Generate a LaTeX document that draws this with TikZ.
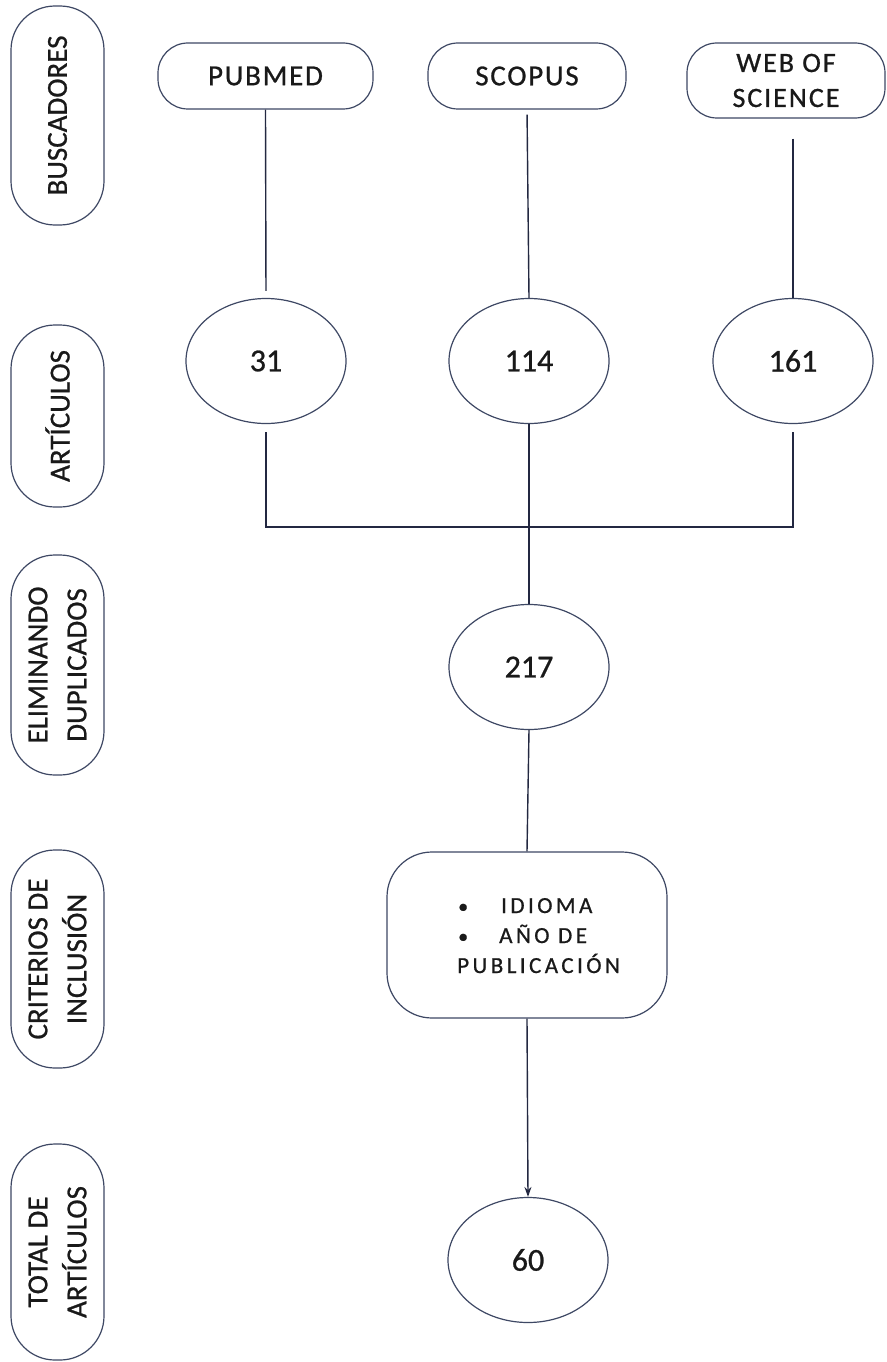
\documentclass[tikz,border=0pt]{standalone}
\usepackage{fontspec}
\setmainfont{Carlito}[FakeBold=0.8]
\usetikzlibrary{shapes.geometric,arrows.meta}
\definecolor{edge}{RGB}{62,72,100}
\definecolor{wire}{RGB}{35,40,65}
\definecolor{ink}{RGB}{25,25,25}
\begin{document}
\begin{tikzpicture}[x=1pt,y=-1pt,
  sidebox/.style={draw=edge, line width=1.2pt, rounded corners=44pt, rotate=90,
    minimum height=93pt, inner sep=0pt, align=center, text=ink,
    font=\fontsize{29}{39}\selectfont},
  topbox/.style={draw=edge, line width=1.2pt, rounded corners=30pt, inner sep=0pt,
    align=center, text=ink, font=\fontsize{29}{35}\selectfont\addfontfeature{LetterSpace=6}},
  numnode/.style={ellipse, draw=edge, line width=1.2pt, minimum width=160pt,
    minimum height=125pt, inner sep=0pt, text=ink, font=\fontsize{32}{38}\selectfont},
  wire/.style={draw=wire, line width=1.4pt}
]
\useasboundingbox (0,0) rectangle (886,1362);
\fill[white] (0,0) rectangle (886,1362);

% left column labels
\node[sidebox, minimum width=219pt] (buscadores) at (57.5,115.5) {BUSCADORES};
\node[sidebox, minimum width=182pt] (articulos) at (57.5,416) {ARTÍCULOS};
\node[sidebox, minimum width=220pt] (eliminando) at (57.5,665) {ELIMINANDO\\DUPLICADOS};
\node[sidebox, minimum width=218pt] (criterios) at (57.5,959) {CRITERIOS DE\\INCLUSIÓN};
\node[sidebox, minimum width=216pt] (total) at (57.5,1252) {TOTAL DE\\ARTÍCULOS};

% sources
\node[topbox, minimum width=215pt, minimum height=66pt] (pubmed) at (265.5,76) {PUBMED};
\node[topbox, minimum width=198pt, minimum height=66pt] (scopus) at (527,76) {SCOPUS};
\node[topbox, minimum width=198pt, minimum height=75pt, font=\fontsize{28}{35}\selectfont\addfontfeature{LetterSpace=7}] (wos) at (786,80.5) {WEB OF\\SCIENCE};

% counts
\node[numnode] (n31) at (266,361) {31};
\node[numnode] (n114) at (529,361) {114};
\node[numnode] (n161) at (793,361) {161};
\node[numnode] (n217) at (529,667) {217};
\node[numnode] (n60) at (528,1260) {60};

% inclusion criteria
\node[draw=edge, line width=1.2pt, rounded corners=45pt, minimum width=280pt,
  minimum height=166pt, inner sep=0pt] (crit) at (527,935) {};
\node[anchor=west, text=ink, inner sep=0pt,
  font=\fontsize{23}{30}\selectfont\addfontfeature{LetterSpace=15}] (crittext) at (457,937)
  {\begin{tabular}{@{}l@{}}\makebox[44pt][l]{\hspace{1pt}\fontsize{20}{30}\selectfont•}IDIOMA\\
   \makebox[42pt][l]{\hspace{1pt}\fontsize{20}{30}\selectfont•}AÑO DE\\
   PUBLICACIÓN\end{tabular}};

% connectors
\coordinate (j) at (529,527);
\draw[wire, shorten >=7pt] (pubmed.south) -- (n31.north);
\draw[wire, shorten <=5pt] (scopus.south) -- (n114.north);
\draw[wire, shorten <=20pt] (n161.north |- wos.south) -- (n161.north);
\draw[wire, shorten <=8pt, shorten >=8pt] (n31.south) |- (j) -| (n161.south);
\draw[wire] (n114.south) -- (n217.north);
\draw[wire] (n217.south) -- (crit.north);
\draw[wire, -{Stealth[length=10pt,width=7pt]}] (crit.south) -- (n60.north);
\end{tikzpicture}
\end{document}
